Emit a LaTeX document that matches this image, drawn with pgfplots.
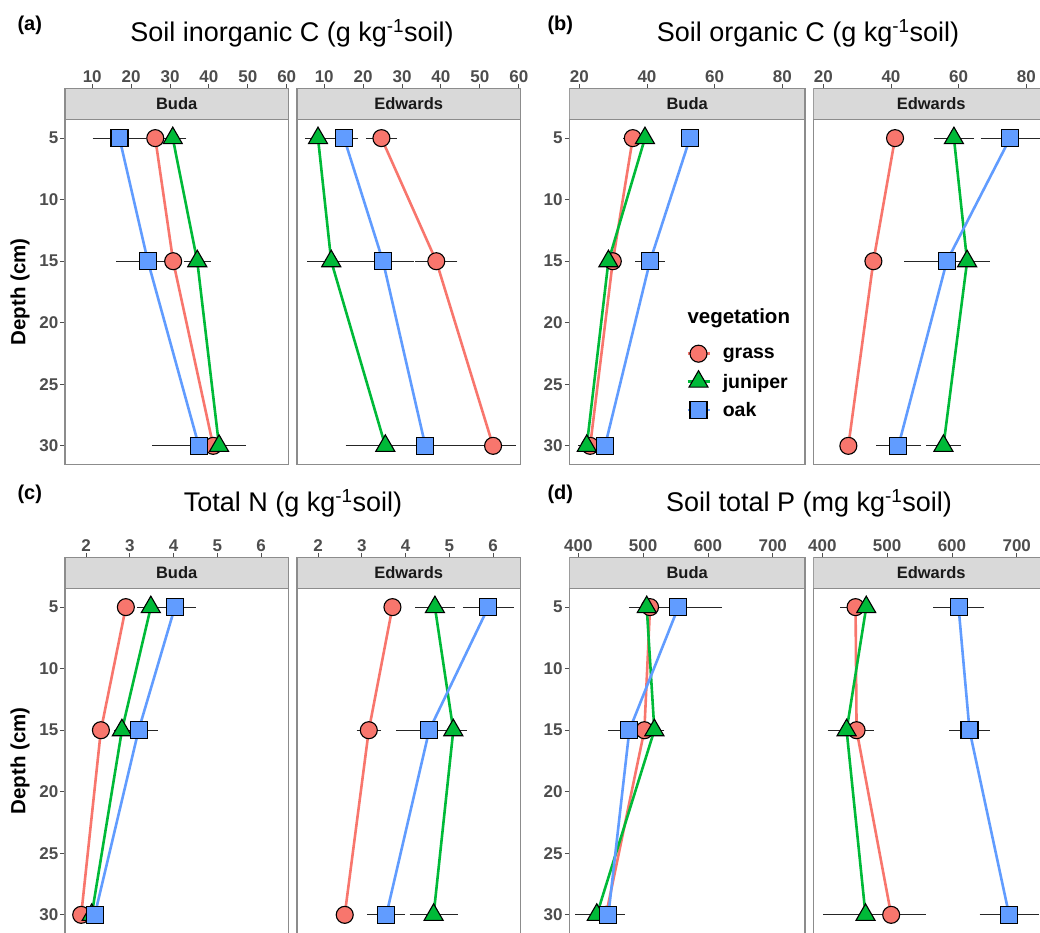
\documentclass[border=0pt]{standalone}
\usepackage{fontspec}
\setmainfont{Liberation Sans}
\usepackage{pgfplots}
\pgfplotsset{compat=1.18}
\usepackage{pgfplotstable}
\definecolor{grass}{HTML}{F8766D}
\definecolor{juniper}{HTML}{00BA38}
\definecolor{oak}{HTML}{619CFF}
\definecolor{tickgray}{HTML}{4D4D4D}
\definecolor{bordergray}{HTML}{8C8C8C}
\definecolor{stripgray}{HTML}{D9D9D9}

% (a) Soil inorganic C
\pgfplotstableread{
d  g     ge   j     je   o     oe
5  26.2  1.2  30.7  2.6  17.0  6.0
15 30.8  1.5  37.0  2.6  24.3  7.2
30 41.1  1.5  42.6  3.0  37.4  11.1
}\tabAB
\pgfplotstableread{
d  g     ge   j     je   o     oe
5  24.7  3.1  8.4   2.5  15.1  2.8
15 38.8  4.5  11.8  5.3  25.1  7.1
30 53.4  4.9  25.7  9.3  36.0  11.0
}\tabAE
% (b) Soil organic C
\pgfplotstableread{
d  g     ge   j     je   o     oe
5  35.8  1.8  39.4  1.0  52.7  1.0
15 29.9  1.0  28.6  1.0  40.9  3.3
30 23.2  1.0  22.2  1.5  27.6  1.0
}\tabBB
\pgfplotstableread{
d  g     ge   j     je   o     oe
5  41.2  0.5  58.6  4.9  75.2  7.7
15 34.8  0.5  62.5  5.2  56.5  11.6
30 27.4  0.5  55.5  4.1  42.2  5.5
}\tabBE
% (c) Total N
\pgfplotstableread{
d  g     ge    j     je    o     oe
5  2.91  0.05  3.48  0.24  4.03  0.40
15 2.34  0.05  2.82  0.10  3.20  0.36
30 1.89  0.05  2.13  0.05  2.20  0.10
}\tabCB
\pgfplotstableread{
d  g     ge    j     je    o     oe
5  3.70  0.05  4.67  0.37  5.89  0.50
15 3.16  0.20  5.09  0.23  4.54  0.67
30 2.61  0.05  4.64  0.47  3.56  0.35
}\tabCE
% (d) Soil total P
\pgfplotstableread{
d  g      ge   j      je   o      oe
5  510.6  10   505.5  22   554.3  62
15 501.9  10   517.3  10   478.7  27
30 442.7  10   428.4  28   446.3  20
}\tabDB
\pgfplotstableread{
d  g      ge   j      je   o      oe
5  451.2  18   467.7  5    610.2  34
15 452.8  21   437.4  24   627.1  26
30 506.2  48   466.6  60   688.2  40
}\tabDE

\newcommand{\facet}[9]{%
\begin{axis}[
  at={(#2bp,#3bp)}, anchor=north west,
  scale only axis, width=#4bp, height=376bp,
  xmin=#5, xmax=#6, ymin=-31.5, ymax=-0.952,
  xtick={#7}, xtick pos=right, xticklabel pos=right,
  ytick pos=left,
  ytick={-30,-25,-20,-15,-10,-5}, yticklabels={30,25,20,15,10,5},
  ymajorticks=#9,
  tick align=outside, major tick length=4.5bp,
  every tick/.style={tickgray, line width=0.9bp},
  axis line style={bordergray, line width=1.1bp},
  ticklabel style={font=\fontsize{17bp}{17bp}\selectfont\bfseries, text=tickgray},
  /pgf/number format/assume math mode=true,
  xticklabel style={inner sep=1bp},
  yticklabel style={inner sep=2bp},
  error bars/error bar style={draw=black!85, line width=0.9bp},
  error bars/error mark options={draw=black!85, line width=0.9bp, mark size=3.5bp},
]
\draw[fill=stripgray, draw=bordergray, line width=1.1bp] (axis cs:#5,-3.47) rectangle (axis cs:#6,-0.952);
\node[font=\fontsize{16.5bp}{16.5bp}\selectfont\bfseries, text=black!90] at (rel axis cs:0.5,0.9588) {#8};
\addplot[draw=none, error bars/.cd, x dir=both, x explicit] table[x=g, y expr=-\thisrow{d}, x error=ge]{#1};
\addplot[draw=none, error bars/.cd, x dir=both, x explicit] table[x=j, y expr=-\thisrow{d}, x error=je]{#1};
\addplot[draw=none, error bars/.cd, x dir=both, x explicit] table[x=o, y expr=-\thisrow{d}, x error=oe]{#1};
\addplot[grass, line width=2.6bp, mark=none] table[x=g, y expr=-\thisrow{d}]{#1};
\addplot[juniper, line width=2.6bp, mark=none] table[x=j, y expr=-\thisrow{d}]{#1};
\addplot[oak, line width=2.6bp, mark=none] table[x=o, y expr=-\thisrow{d}]{#1};
\addplot[only marks, mark=*, mark size=8.5bp, mark options={fill=grass, draw=black, line width=1.1bp}] table[x=g, y expr=-\thisrow{d}]{#1};
\addplot[only marks, mark=triangle*, mark size=11bp, mark options={fill=juniper, draw=black, line width=1.1bp}] table[x=j, y expr=-\thisrow{d}]{#1};
\addplot[only marks, mark=square*, mark size=8.5bp, mark options={fill=oak, draw=black, line width=1.1bp}] table[x=o, y expr=-\thisrow{d}]{#1};
\end{axis}}

\begin{document}
\begin{tikzpicture}
\useasboundingbox (0bp,0bp) rectangle (1040bp,-933bp);

\facet{\tabAB}{65}{-88.3}{223.3}{3}{60.4}{10,20,...,60}{Buda}{true}
\facet{\tabAE}{297}{-88.3}{223.3}{3}{60.4}{10,20,...,60}{Edwards}{false}
\facet{\tabBB}{569.3}{-88.3}{235.7}{17.04}{86.7}{20,40,60,80}{Buda}{true}
\facet{\tabBE}{813.3}{-88.3}{235.7}{17.04}{86.7}{20,40,60,80}{Edwards}{false}
\facet{\tabCB}{65}{-557.3}{223.3}{1.52}{6.62}{2,3,4,5,6}{Buda}{true}
\facet{\tabCE}{297}{-557.3}{223.3}{1.52}{6.62}{2,3,4,5,6}{Edwards}{false}
\facet{\tabDB}{569.3}{-557.3}{235.7}{386}{749.8}{400,500,600,700}{Buda}{true}
\facet{\tabDE}{813.3}{-557.3}{235.7}{386}{749.8}{400,500,600,700}{Edwards}{false}

% legend
\begin{axis}[at={(0bp,-933bp)}, anchor=south west, scale only axis, width=1040bp, height=933bp,
  xmin=0, xmax=1040, ymin=-933, ymax=0, hide axis,
  legend style={at={(axis cs:686,-345)}, anchor=north west, draw=none, fill=none,
    font=\fontsize{19.5bp}{19.5bp}\selectfont\bfseries, row sep=8.5bp, inner sep=0pt,
    /tikz/every odd column/.append style={column sep=10bp}},
  legend cell align=left,
  legend image code/.code={\draw[mark repeat=2,mark phase=2,#1] plot coordinates {(0bp,0bp) (11bp,0bp) (22bp,0bp)};}]
\addlegendimage{grass, line width=2.6bp, mark=*, mark size=8.5bp, mark options={fill=grass, draw=black, line width=1.1bp}}
\addlegendentry{grass}
\addlegendimage{juniper, line width=2.6bp, mark=triangle*, mark size=11bp, mark options={fill=juniper, draw=black, line width=1.1bp}}
\addlegendentry{juniper}
\addlegendimage{oak, line width=2.6bp, mark=square*, mark size=8.5bp, mark options={fill=oak, draw=black, line width=1.1bp}}
\addlegendentry{oak}
\end{axis}
\node[anchor=west, font=\fontsize{20.5bp}{20.5bp}\selectfont\bfseries] at (684bp,-318bp) {vegetation};

% titles and labels
\node[anchor=base, font=\fontsize{27bp}{27bp}\selectfont] at (292bp,-41.7bp) {Soil inorganic C (g kg\textsuperscript{-1}soil)};
\node[anchor=base, font=\fontsize{27bp}{27bp}\selectfont] at (808bp,-41.7bp) {Soil organic C (g kg\textsuperscript{-1}soil)};
\node[anchor=base, font=\fontsize{27bp}{27bp}\selectfont] at (293bp,-511.7bp) {Total N (g kg\textsuperscript{-1}soil)};
\node[anchor=base, font=\fontsize{27bp}{27bp}\selectfont] at (809bp,-511.7bp) {Soil total P (mg kg\textsuperscript{-1}soil)};
\node[anchor=base west, font=\fontsize{20bp}{20bp}\selectfont\bfseries] at (14bp,-30bp) {(a)};
\node[anchor=base west, font=\fontsize{20bp}{20bp}\selectfont\bfseries] at (544bp,-30bp) {(b)};
\node[anchor=base west, font=\fontsize{20bp}{20bp}\selectfont\bfseries] at (14bp,-499bp) {(c)};
\node[anchor=base west, font=\fontsize{20bp}{20bp}\selectfont\bfseries] at (544bp,-499bp) {(d)};
\node[rotate=90, font=\fontsize{20.5bp}{20.5bp}\selectfont\bfseries] at (20bp,-291.7bp) {Depth (cm)};
\node[rotate=90, font=\fontsize{20.5bp}{20.5bp}\selectfont\bfseries] at (20bp,-761bp) {Depth (cm)};
\end{tikzpicture}
\end{document}
